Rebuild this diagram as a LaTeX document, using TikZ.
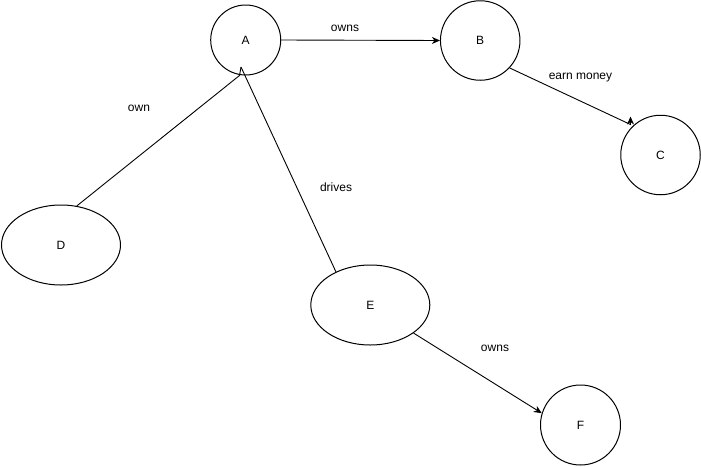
\documentclass[tikz,border=0pt]{standalone}
\usepackage{fontspec}
\setmainfont{Liberation Sans}
\usetikzlibrary{arrows.meta,shapes.geometric}
\begin{document}
\begin{tikzpicture}[x=1pt,y=-1pt,
  every node/.style={font=\fontsize{12pt}{14pt}\selectfont},
  circ/.style={draw,circle,line width=1pt,inner sep=0pt},
  ell/.style={draw,ellipse,line width=1pt,inner sep=0pt,minimum width=119pt,minimum height=80pt},
  lbl/.style={inner sep=0pt},
  conn/.style={line width=0.9pt},
  arr/.style={conn,-{Stealth[length=8pt,width=7pt,inset=2.5pt]}}]
\useasboundingbox (0,0) rectangle (701,466);
\node[circ,minimum size=70pt] (A) at (245.7,40) {A};
\node[circ,minimum size=79.5pt] (B) at (480.2,40.5) {B};
\node[circ,minimum size=79.5pt] (C) at (660.5,155) {C};
\node[ell] (D) at (61,245) {D};
\node[ell] (E) at (370.3,305) {E};
\node[circ,minimum size=80pt] (F) at (580.5,425) {F};
\coordinate (atip) at (241,67);
\coordinate (aleg) at (239.5,75.5);
\coordinate (c1) at (630.5,124.5);
\coordinate (c2) at (630.5,116.5);
\draw[arr] (A.east) -- (B.west);
\draw[arr] (B.-43.5) -- (c1) -- (c2);
\draw[conn] (D.68.6) -- (aleg) -- (atip);
\draw[conn] (atip) -- (E.136.8);
\draw[arr] (E.-33.4) -- (F.163.5);
\node[lbl] (l1) at (345,28) {owns};
\node[lbl] (l2) at (580.5,78) {earn money};
\node[lbl] (l3) at (139,108) {own};
\node[lbl] (l4) at (336,187) {drives};
\node[lbl] (l5) at (495,348) {owns};
\end{tikzpicture}
\end{document}
